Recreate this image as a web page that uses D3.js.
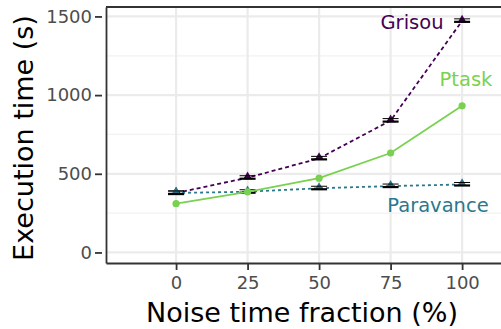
<!DOCTYPE html>
<html>
<head>
<meta charset="utf-8">
<script src="https://cdn.jsdelivr.net/npm/d3@7"></script>
<style>
body{margin:0;background:#fff;}
text{font-family:"DejaVu Sans",sans-serif;}
</style>
</head>
<body>
<svg id="chart" width="501" height="329"></svg>
<script>
// noise fractions and mean execution times (s)
var noise = [0, 25, 50, 75, 100];
var grisou = [378, 475, 598, 838, 1472];
var ptask = [310, 385, 472, 632, 932];
var paravance = [378, 386, 408, 422, 432];
var yTicks = [0, 500, 1000, 1500];

var svg = d3.select("#chart"),
  width = +svg.attr("width"),
  height = +svg.attr("height");

var margin = {top:7, right:0, bottom:66, left:106};

var x = d3.scaleLinear()
  .domain([-24.5, 113.6])
  .range([margin.left, width - margin.right]);

var y = d3.scaleLinear()
  .domain([-67, 1560])
  .range([height - margin.bottom, margin.top]);

// gridlines
var g = svg.append("g");
g.selectAll(".minor")
  .data([250, 750, 1250])
  .enter().append("line")
  .attr("x1", x.range()[0]).attr("x2", x.range()[1])
  .attr("y1", y).attr("y2", y)
  .style("stroke", "#f2f2f2").style("stroke-width", 1.2);
g.selectAll(".majory")
  .data(yTicks)
  .enter().append("line")
  .attr("x1", x.range()[0]).attr("x2", x.range()[1])
  .attr("y1", y).attr("y2", y)
  .style("stroke", "#ebebeb").style("stroke-width", 2.2);
g.selectAll(".majorx")
  .data(noise)
  .enter().append("line")
  .attr("x1", x).attr("x2", x)
  .attr("y1", y.range()[0]).attr("y2", y.range()[1])
  .style("stroke", "#ebebeb").style("stroke-width", 2.2);

var line = d3.line()
  .x(function(d, i){ return x(noise[i]); })
  .y(function(d){ return y(d); });

var series = [
  {name:"Grisou", values:grisou, color:"#440154", dash:"4,3", shape:"tri"},
  {name:"Paravance", values:paravance, color:"#2a788e", dash:"3,3", shape:"tri"},
  {name:"Ptask", values:ptask, color:"#7ad151", dash:null, shape:"dot"}
];

series.forEach(function(s){
  svg.append("path")
    .datum(s.values)
    .attr("d", line)
    .style("fill", "none")
    .style("stroke", s.color)
    .style("stroke-width", 1.8)
    .style("stroke-dasharray", s.dash);

  if (s.shape == "tri") {
    svg.append("g").selectAll("path")
      .data(s.values)
      .enter().append("path")
      .attr("d", d3.symbol().type(d3.symbolTriangle).size(34))
      .attr("transform", function(d, i){ return "translate(" + x(noise[i]) + "," + (y(d) - 1) + ")"; })
      .style("fill", s.color);
    // error bars
    svg.append("g").selectAll("line")
      .data(s.values)
      .enter().append("line")
      .attr("x1", function(d, i){ return x(noise[i]) - 8; })
      .attr("x2", function(d, i){ return x(noise[i]) + 8; })
      .attr("y1", function(d){ return y(d) + 1; })
      .attr("y2", function(d){ return y(d) + 1; })
      .style("stroke", "#000")
      .style("stroke-width", 2.2);
    svg.append("g").selectAll("line")
      .data(s.values)
      .enter().append("line")
      .attr("x1", function(d, i){ return x(noise[i]) - 8; })
      .attr("x2", function(d, i){ return x(noise[i]) + 8; })
      .attr("y1", function(d){ return y(d) - 2; })
      .attr("y2", function(d){ return y(d) - 2; })
      .style("stroke", "#000")
      .style("stroke-width", 1);
  } else {
    svg.append("g").selectAll("circle")
      .data(s.values)
      .enter().append("circle")
      .attr("cx", function(d, i){ return x(noise[i]); })
      .attr("cy", y)
      .attr("r", 3.6)
      .style("fill", s.color);
  }
});

// series labels
svg.append("text").attr("x", 412).attr("y", 29).attr("text-anchor", "middle")
  .style("font-size", "19.5px").style("fill", "#440154").text("Grisou");
svg.append("text").attr("x", 466).attr("y", 86).attr("text-anchor", "middle")
  .style("font-size", "19.5px").style("fill", "#7ad151").text("Ptask");
svg.append("text").attr("x", 438).attr("y", 212).attr("text-anchor", "middle")
  .style("font-size", "19.5px").style("fill", "#2a788e").text("Paravance");

// panel border top, axes left/bottom
svg.append("line")
  .attr("x1", x.range()[0]).attr("x2", x.range()[1])
  .attr("y1", margin.top).attr("y2", margin.top)
  .style("stroke", "#333").style("stroke-width", 1.8);

var yAxis = svg.append("g")
  .attr("transform", "translate(" + margin.left + ",0)")
  .call(d3.axisLeft(y).tickValues(yTicks).tickFormat(d3.format("d"))
    .tickSizeInner(5).tickSizeOuter(0).tickPadding(4));
var xAxis = svg.append("g")
  .attr("transform", "translate(0," + (height - margin.bottom) + ")")
  .call(d3.axisBottom(x).tickValues(noise).tickFormat(d3.format("d"))
    .tickSizeInner(5).tickSizeOuter(0).tickPadding(4));

[xAxis, yAxis].forEach(function(a){
  a.select(".domain").style("stroke", "#333").style("stroke-width", 1.8);
  a.selectAll(".tick line").style("stroke", "#333").style("stroke-width", 1.8);
  a.selectAll(".tick text").style("font-size", "18px").style("fill", "#4d4d4d")
    .style("font-family", "'DejaVu Sans',sans-serif");
});
yAxis.selectAll(".tick line").attr("x2", -7).attr("transform", "translate(-4,0)");
yAxis.selectAll(".tick text").attr("x", -14);
xAxis.selectAll(".tick line").attr("y1", 0).attr("y2", 7);
xAxis.selectAll(".tick text").attr("y", 13);

// axis titles
svg.append("text")
  .attr("x", 302).attr("y", 322)
  .attr("text-anchor", "middle")
  .style("font-size", "27px").style("fill", "#000")
  .text("Noise time fraction (%)");
svg.append("text")
  .attr("transform", "translate(33,138) rotate(-90)")
  .attr("text-anchor", "middle")
  .style("font-size", "27px").style("fill", "#000")
  .text("Execution time (s)");
</script>
</body>
</html>
